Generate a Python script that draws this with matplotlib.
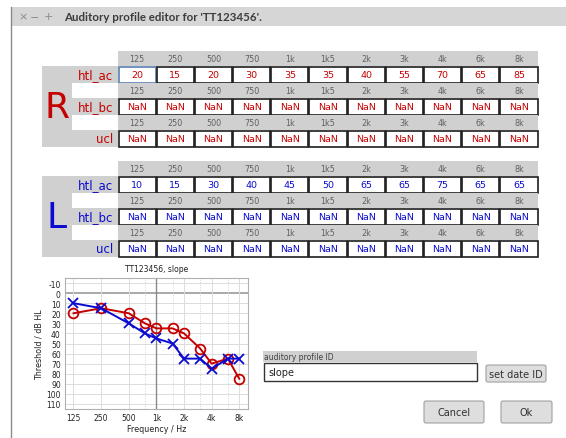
import matplotlib
matplotlib.use('Agg')
import matplotlib.pyplot as plt
from matplotlib.patches import Rectangle, FancyBboxPatch
import matplotlib.ticker as mticker

plt.rcParams['axes.unicode_minus'] = False

nan = float('nan')

freqs = [125, 250, 500, 750, 1000, 1500, 2000, 3000, 4000, 6000, 8000]
freq_labels = ['125', '250', '500', '750', '1k', '1k5', '2k', '3k', '4k', '6k', '8k']
row_names = ['htl_ac', 'htl_bc', 'ucl']

right_ac = [20, 15, 20, 30, 35, 35, 40, 55, 70, 65, 85]
right_bc = [nan, nan, nan, nan, nan, nan, nan, nan, nan, nan, nan]
right_ucl = [nan, nan, nan, nan, nan, nan, nan, nan, nan, nan, nan]
left_ac = [10, 15, 30, 40, 45, 50, 65, 65, 75, 65, 65]
left_bc = [nan, nan, nan, nan, nan, nan, nan, nan, nan, nan, nan]
left_ucl = [nan, nan, nan, nan, nan, nan, nan, nan, nan, nan, nan]

plot_ticks = [125, 250, 500, 1000, 2000, 4000, 8000]
plot_tick_labels = ['125', '250', '500', '1k', '2k', '4k', '8k']

W, H = 566, 439
RED = '#c40000'
BLUE = '#0a0ad0'

fig = plt.figure(figsize=(W / 100, H / 100), dpi=100)
fig.patch.set_facecolor('white')

# pixel-space overlay for the window widgets
bg = fig.add_axes([0, 0, 1, 1])
bg.set_xlim(0, W)
bg.set_ylim(H, 0)
bg.axis('off')

# window frame and title bar
bg.add_patch(Rectangle((11, 8), W - 11, 19, facecolor='#d6d6d6', edgecolor='none'))
bg.plot([11, 11], [8, H], color='#8a8a8a', lw=1)
bg.text(23, 17.5, '\u00d7', color='#8c8c8c', fontsize=8, ha='center', va='center')
bg.text(35, 17.5, '\u2212', color='#8c8c8c', fontsize=8, ha='center', va='center')
bg.text(48, 17.5, '+', color='#8c8c8c', fontsize=8, ha='center', va='center')
bg.text(64, 17.5, "Auditory profile editor for 'TT123456'.", color='#3c3c3c',
        family='Lato', fontsize=8.3, fontweight='bold', ha='left', va='center')

x0, x1 = 118, 538
cw = (x1 - x0) / len(freqs)
head_h, cell_h, pitch = 15, 17, 32


def draw_block(top, side, color, rows):
    # gray label area
    cells_top = top + head_h
    bottom = top + 2 * pitch + head_h + cell_h
    bg.add_patch(Rectangle((42, cells_top), x0 - 42, bottom - cells_top,
                           facecolor='#d0d0d0', edgecolor='none'))
    for r, (name, vals) in enumerate(zip(row_names, rows)):
        hy = top + r * pitch
        if r > 0:
            bg.add_patch(Rectangle((72, hy), x0 - 72, head_h, facecolor='white', edgecolor='none'))
        bg.add_patch(Rectangle((x0, hy), x1 - x0, head_h, facecolor='#d0d0d0', edgecolor='none'))
        cy = hy + head_h
        bg.text(113, cy + cell_h / 2, name, color=color, fontsize=8.5,
                ha='right', va='center')
        for i, (lab, v) in enumerate(zip(freq_labels, vals)):
            cx = x0 + i * cw
            bg.text(cx + cw / 2, hy + head_h / 2 + 0.5, lab, color='#606060',
                    fontsize=5.8, ha='center', va='center')
            ec = '#5a7fb0' if (r == 0 and i == 0 and side == 'R') else '#1e1e1e'
            bg.add_patch(Rectangle((cx + 0.5, cy + 0.5), cw - 1, cell_h - 1,
                                   facecolor='white', edgecolor=ec, lw=1.2))
            txt = 'NaN' if v != v else '%g' % v
            bg.text(cx + cw / 2, cy + cell_h / 2 + 0.5, txt, color=color,
                    fontsize=6.8, ha='center', va='center')
    bg.text(57, (cells_top + bottom) / 2 + 1, side, color=color, fontsize=26,
            ha='center', va='center')


draw_block(52, 'R', RED, [right_ac, right_bc, right_ucl])
draw_block(162, 'L', BLUE, [left_ac, left_bc, left_ucl])

# profile id entry and buttons
bg.add_patch(Rectangle((263, 352), 214, 11, facecolor='#d0d0d0', edgecolor='none'))
bg.text(264, 357.5, 'auditory profile ID', color='#404040', fontsize=5.5, ha='left', va='center')
bg.add_patch(Rectangle((263.5, 363.5), 213, 18, facecolor='white', edgecolor='#333333', lw=1))
bg.text(268, 373, 'slope', color='#222222', fontsize=7, ha='left', va='center')


def button(x, y, w, h, label, fs):
    bg.add_patch(FancyBboxPatch((x, y), w, h, boxstyle='round,pad=0,rounding_size=2',
                                facecolor='#dedede', edgecolor='#a0a0a0', lw=0.8))
    bg.text(x + w / 2, y + h / 2 + 0.5, label, color='#303030', fontsize=fs,
            ha='center', va='center')


button(486, 366, 60, 17, 'set date ID', 7)
button(424, 402, 60, 22, 'Cancel', 7)
button(501, 402, 51, 22, 'Ok', 7)

# audiogram
ax = fig.add_axes([65 / W, 1 - 410 / H, 183 / W, 131 / H])
ax.set_facecolor('white')
ax.set_xscale('log')
ax.set_xlim(101, 9950)
ax.set_ylim(115, -15)
for y in range(-10, 120, 10):
    ax.axhline(y, color='#9a9a9a' if y == 0 else '#dcdcdc', lw=1.2 if y == 0 else 0.7, zorder=0)
for f in freqs:
    if f == 1000:
        ax.axvline(f, color='#8a8a8a', lw=1.0, zorder=0)
    elif f in plot_ticks:
        ax.axvline(f, color='#dcdcdc', lw=0.7, zorder=0)
    else:
        ax.axvline(f, color='#d0d0d0', lw=0.7, ls=':', zorder=0)

ax.plot(freqs, right_ac, color=RED, lw=1.4, marker='o', ms=7,
        mfc='none', mec=RED, mew=1.3, zorder=3)
ax.plot(freqs, left_ac, color=BLUE, lw=1.4, marker='x', ms=7,
        mec=BLUE, mew=1.3, zorder=3)

ax.xaxis.set_major_locator(mticker.FixedLocator(plot_ticks))
ax.xaxis.set_major_formatter(mticker.FixedFormatter(plot_tick_labels))
ax.xaxis.set_minor_locator(mticker.NullLocator())
ax.set_yticks(range(-10, 120, 10))
ax.tick_params(labelsize=5.5, length=0, pad=3, colors='#222222')
for s in ax.spines.values():
    s.set_color('#b0b0b0')
    s.set_linewidth(0.8)
ax.set_title('TT123456, slope', fontsize=5.5, color='#222222', pad=5)
ax.set_xlabel('Frequency / Hz', fontsize=5.8, color='#222222', labelpad=1)
ax.set_ylabel('Threshold / dB HL', fontsize=5.8, color='#222222', labelpad=2)

fig.savefig('out.png', dpi=100)
